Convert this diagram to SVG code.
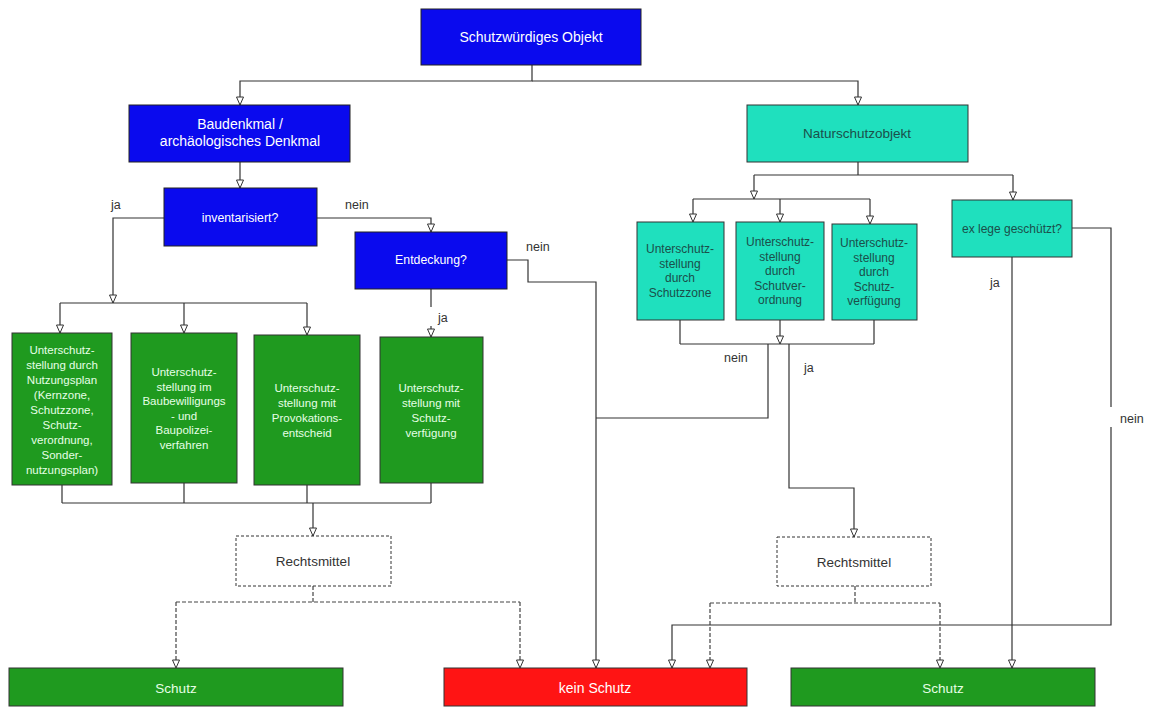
<svg xmlns="http://www.w3.org/2000/svg" width="1153" height="708" viewBox="0 0 1153 708">
<defs>
<marker id="arr" markerUnits="userSpaceOnUse" markerWidth="10" markerHeight="10" refX="9" refY="4" orient="auto">
<path d="M1,0.5 L9,4 L1,7.5 Z" fill="#fff" stroke="#333" stroke-width="1"/>
</marker>
</defs>
<style>
text{font-family:"Liberation Sans",Arial,sans-serif;text-anchor:middle}
.blue{fill:#0a0aee;stroke:#222;stroke-width:1}
.turq{fill:#1fe0be;stroke:#333;stroke-width:1}
.green{fill:#1f9a1f;stroke:#333;stroke-width:1}
.red{fill:#ff1414;stroke:#333;stroke-width:1}
.rm{fill:#fff;stroke:#333;stroke-width:1;stroke-dasharray:3,2}
.wt{fill:#fff;font-size:14px}
.gt{fill:#e6ffe6;font-size:11.5px}
.tt{fill:#1b4f4a;font-size:12px}
.dt{fill:#333;font-size:13.5px}
.lbl{fill:#333;font-size:12.5px;text-anchor:start}
.c{fill:none;stroke:#333;stroke-width:1.2}
.d{fill:none;stroke:#444;stroke-width:1.2;stroke-dasharray:4,2}
</style>

<g id="connectors">
<path class="c" d="M532,65 V81 H240 V105" marker-end="url(#arr)"/>
<path class="c" d="M532,81 H858 V105" marker-end="url(#arr)"/>
<path class="c" d="M240,162 V188" marker-end="url(#arr)"/>
<path class="c" d="M164,218 H113 V303" marker-end="url(#arr)"/>
<path class="c" d="M60,303 H307"/>
<path class="c" d="M60,303 V333" marker-end="url(#arr)"/>
<path class="c" d="M184,303 V333" marker-end="url(#arr)"/>
<path class="c" d="M307,303 V335" marker-end="url(#arr)"/>
<path class="c" d="M317,218 H431 V232" marker-end="url(#arr)"/>
<path class="c" d="M431,289 V307"/>
<path class="c" d="M431,326 V337" marker-end="url(#arr)"/>
<path class="c" d="M507,260 H528 V282 H596 V668" marker-end="url(#arr)"/>
<path class="c" d="M62,485 V503 M184,483 V503 M307,485 V503 M431,483 V503 M62,503 H431"/>
<path class="c" d="M313,503 V536" marker-end="url(#arr)"/>
<path class="d" d="M313,586 V602 M176,602 H520"/>
<path class="d" d="M176,602 V668" marker-end="url(#arr)"/>
<path class="d" d="M520,602 V668" marker-end="url(#arr)"/>
<path class="c" d="M858,162 V175 M754,175 H1013"/>
<path class="c" d="M754,175 V199" marker-end="url(#arr)"/>
<path class="c" d="M1013,175 V200" marker-end="url(#arr)"/>
<path class="c" d="M693,199 H870"/>
<path class="c" d="M693,199 V222" marker-end="url(#arr)"/>
<path class="c" d="M780,199 V222" marker-end="url(#arr)"/>
<path class="c" d="M870,199 V224" marker-end="url(#arr)"/>
<path class="c" d="M680,320 V344 M874,320 V344 M680,344 H874"/>
<path class="c" d="M780,320 V344" marker-end="url(#arr)"/>
<path class="c" d="M768,344 V418 H596"/>
<path class="c" d="M789,344 V488 H854 V537" marker-end="url(#arr)"/>
<path class="d" d="M855,586 V603 M710,603 H940"/>
<path class="d" d="M710,603 V668" marker-end="url(#arr)"/>
<path class="d" d="M940,603 V668" marker-end="url(#arr)"/>
<path class="c" d="M1072,228 H1111 V407"/>
<path class="c" d="M1111,427 V625 H672 V668" marker-end="url(#arr)"/>
<path class="c" d="M1012,257 V668" marker-end="url(#arr)"/>
<text class="lbl" x="111" y="209">ja</text>
<text class="lbl" x="345" y="209">nein</text>
<text class="lbl" x="526" y="251">nein</text>
<text class="lbl" x="438" y="322">ja</text>
<text class="lbl" x="724" y="362">nein</text>
<text class="lbl" x="804" y="372">ja</text>
<text class="lbl" x="990" y="287">ja</text>
<text class="lbl" x="1120" y="423">nein</text>
</g>

<g id="n-schutzwuerdig"><rect class="blue" x="421" y="9" width="220" height="56"/><text class="wt" x="531" y="42">Schutzwürdiges Objekt</text></g>
<g id="n-baudenkmal"><rect class="blue" x="129" y="105" width="221" height="57"/><text class="wt" x="240" y="129">Baudenkmal /</text><text class="wt" x="240" y="146">archäologisches Denkmal</text></g>
<g id="n-inventarisiert"><rect class="blue" x="164" y="188" width="153" height="58"/><text class="wt" x="240" y="222" style="font-size:12.3px">inventarisiert?</text></g>
<g id="n-entdeckung"><rect class="blue" x="355" y="232" width="152" height="57"/><text class="wt" x="431" y="264" style="font-size:12.3px">Entdeckung?</text></g>

<g id="n-g1"><rect class="green" x="12" y="333" width="100" height="152"/>
<text class="gt" x="62" y="354">Unterschutz-</text><text class="gt" x="62" y="369">stellung durch</text><text class="gt" x="62" y="384">Nutzungsplan</text><text class="gt" x="62" y="399">(Kernzone,</text><text class="gt" x="62" y="414">Schutzzone,</text><text class="gt" x="62" y="429">Schutz-</text><text class="gt" x="62" y="444">verordnung,</text><text class="gt" x="62" y="459">Sonder-</text><text class="gt" x="62" y="474">nutzungsplan)</text></g>
<g id="n-g2"><rect class="green" x="131" y="333" width="106" height="150"/>
<text class="gt" x="184" y="376">Unterschutz-</text><text class="gt" x="184" y="391">stellung im</text><text class="gt" x="184" y="405">Baubewilligungs</text><text class="gt" x="184" y="420">- und</text><text class="gt" x="184" y="434">Baupolizei-</text><text class="gt" x="184" y="449">verfahren</text></g>
<g id="n-g3"><rect class="green" x="254" y="335" width="106" height="150"/>
<text class="gt" x="307" y="392">Unterschutz-</text><text class="gt" x="307" y="407">stellung mit</text><text class="gt" x="307" y="422">Provokations-</text><text class="gt" x="307" y="437">entscheid</text></g>
<g id="n-g4"><rect class="green" x="380" y="337" width="103" height="146"/>
<text class="gt" x="431" y="392">Unterschutz-</text><text class="gt" x="431" y="407">stellung mit</text><text class="gt" x="431" y="422">Schutz-</text><text class="gt" x="431" y="437">verfügung</text></g>

<g id="n-rechtsmittel-l"><rect class="rm" x="236" y="536" width="155" height="50"/><text class="dt" x="313" y="566">Rechtsmittel</text></g>

<g id="n-naturschutz"><rect class="turq" x="747" y="105" width="221" height="57"/><text class="tt" x="857" y="138" style="font-size:13.5px">Naturschutzobjekt</text></g>
<g id="n-t1"><rect class="turq" x="637" y="222" width="87" height="98"/>
<text class="tt" x="680" y="253">Unterschutz-</text><text class="tt" x="680" y="268">stellung</text><text class="tt" x="680" y="282">durch</text><text class="tt" x="680" y="297">Schutzzone</text></g>
<g id="n-t2"><rect class="turq" x="736" y="222" width="88" height="98"/>
<text class="tt" x="780" y="246">Unterschutz-</text><text class="tt" x="780" y="261">stellung</text><text class="tt" x="780" y="275">durch</text><text class="tt" x="780" y="290">Schutver-</text><text class="tt" x="780" y="304">ordnung</text></g>
<g id="n-t3"><rect class="turq" x="832" y="224" width="85" height="96"/>
<text class="tt" x="874" y="247">Unterschutz-</text><text class="tt" x="874" y="262">stellung</text><text class="tt" x="874" y="276">durch</text><text class="tt" x="874" y="291">Schutz-</text><text class="tt" x="874" y="305">verfügung</text></g>
<g id="n-exlege"><rect class="turq" x="952" y="200" width="120" height="57"/><text class="tt" x="1012" y="233">ex lege geschützt?</text></g>

<g id="n-rechtsmittel-r"><rect class="rm" x="777" y="537" width="154" height="49"/><text class="dt" x="854" y="567">Rechtsmittel</text></g>

<g id="n-schutz-l"><rect class="green" x="9" y="668" width="334" height="38"/><text class="gt" x="176" y="693" style="font-size:13.5px">Schutz</text></g>
<g id="n-keinschutz"><rect class="red" x="444" y="668" width="303" height="38"/><text class="wt" x="595" y="693">kein Schutz</text></g>
<g id="n-schutz-r"><rect class="green" x="791" y="668" width="304" height="38"/><text class="gt" x="943" y="693" style="font-size:13.5px">Schutz</text></g>
</svg>
